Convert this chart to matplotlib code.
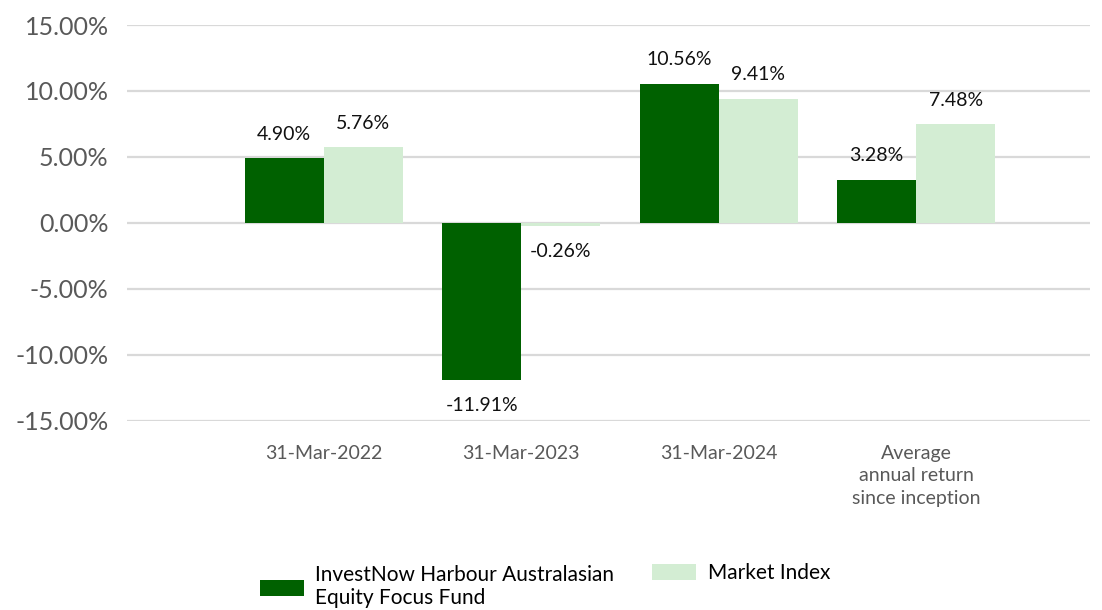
import matplotlib.pyplot as plt
from matplotlib.patches import Patch
import numpy as np

plt.rcParams['font.family'] = ['Lato', 'DejaVu Sans']

categories = ['31-Mar-2022', '31-Mar-2023', '31-Mar-2024',
              'Average\nannual return\nsince inception']
fund = [4.90, -11.91, 10.56, 3.28]
index = [5.76, -0.26, 9.41, 7.48]
series_names = ['InvestNow Harbour Australasian\nEquity Focus Fund', 'Market Index']
yticks = [-15, -10, -5, 0, 5, 10, 15]

dark = '#006100'
light = '#D3EDD3'
grey = '#595959'

fig = plt.figure(figsize=(11.02, 6.10), dpi=100)
ax = fig.add_axes([0.115, 0.310, 0.874, 0.649])

x = np.arange(len(categories))
w = 0.4
b1 = ax.bar(x - w / 2, fund, w, color=dark, zorder=3)
b2 = ax.bar(x + w / 2, index, w, color=light, zorder=3)

for bars, vals in ((b1, fund), (b2, index)):
    for rect, v in zip(bars, vals):
        cx = rect.get_x() + rect.get_width() / 2
        if v >= 0:
            ax.annotate(f'{v:.2f}%', (cx, v), xytext=(0, 11), textcoords='offset points',
                        ha='center', va='bottom', fontsize=14, color='#111111')
        else:
            ax.annotate(f'{v:.2f}%', (cx, v), xytext=(0, -12), textcoords='offset points',
                        ha='center', va='top', fontsize=14, color='#111111')

ax.set_xlim(-0.997, 3.88)
ax.set_ylim(-15, 15)
ax.set_yticks(yticks)
ax.set_yticklabels([f'{t:.2f}%' for t in yticks], fontsize=18, color=grey)
ax.set_xticks(x)
ax.set_xticklabels(categories, fontsize=14, color=grey, linespacing=1.4, va='top')
ax.tick_params(axis='both', length=0)
ax.tick_params(axis='x', pad=17)
ax.tick_params(axis='y', pad=13)
ax.yaxis.grid(True, color='#D9D9D9', linewidth=1.6, zorder=0)
for s in ax.spines.values():
    s.set_visible(False)

# two separate legends so the light patch sits on the first text line
leg_kw = dict(frameon=False, fontsize=15, handlelength=2.1, handleheight=0.8,
              handletextpad=0.55, borderpad=0, borderaxespad=0)
leg1 = fig.legend([Patch(facecolor=dark)], [series_names[0]], loc='center left',
                  bbox_to_anchor=(0.236, 0.038), labelspacing=0, **leg_kw)
for t in leg1.get_texts():
    t.set_linespacing(1.2)
fig.legend([Patch(facecolor=light)], [series_names[1]], loc='center left',
           bbox_to_anchor=(0.592, 0.061), **leg_kw)

fig.savefig('out.png', dpi=100)
